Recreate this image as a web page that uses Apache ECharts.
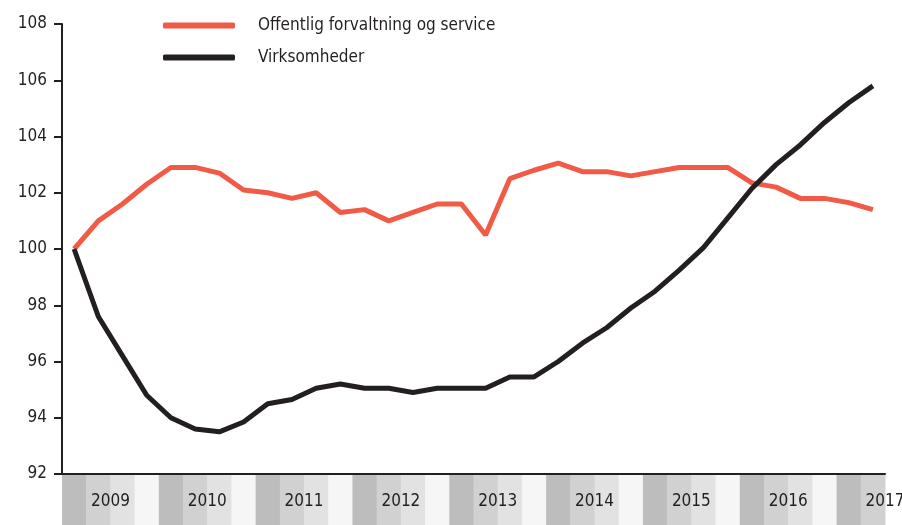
<!DOCTYPE html>
<html>
<head>
	<meta charset="UTF-8">
	<title>Offentlig forvaltning og virksomheder</title>
	<script src="https://cdn.jsdelivr.net/npm/echarts@6/dist/echarts.min.js"></script>
	<style>
		html, body { margin: 0; padding: 0; background: #fff; }
		#chart { width: 902px; height: 525px; }
	</style>
</head>
<body>
	<div id="chart"></div>
	<script>
		// kvartaler 2009K1 - 2017K2
		var years = ["2009","2010","2011","2012","2013","2014","2015","2016","2017"];
		var quarters = [];
		for (var y = 0; y < years.length; y++) {
			for (var q = 1; q <= 4; q++) {
				if (quarters.length < 34) quarters.push(years[y] + "K" + q);
			}
		}
		var yTicks = [92, 94, 96, 98, 100, 102, 104, 106, 108];

		var offentlig = [100.0, 101.0, 101.6, 102.3, 102.9, 102.9, 102.7, 102.1, 102.0, 101.8,
			102.0, 101.3, 101.4, 101.0, 101.3, 101.6, 101.6, 100.5, 102.5, 102.8,
			103.05, 102.75, 102.75, 102.6, 102.75, 102.9, 102.9, 102.9, 102.35, 102.2,
			101.8, 101.8, 101.65, 101.4];
		var virksomheder = [100.0, 97.6, 96.2, 94.8, 94.0, 93.6, 93.5, 93.85, 94.5, 94.65,
			95.05, 95.2, 95.05, 95.05, 94.9, 95.05, 95.05, 95.05, 95.45, 95.45,
			96.0, 96.65, 97.2, 97.9, 98.5, 99.25, 100.05, 101.1, 102.15, 103.0,
			103.7, 104.5, 105.2, 105.8];

		var bandColors = ["#bdbdbd", "#d1d1d1", "#e2e2e2", "#f6f6f6"];
		var font = "'Liberation Sans Narrow', 'DejaVu Sans Condensed', sans-serif";
		var bandData = quarters.map(function (q, i) { return [i, 1]; });

		var myChart = echarts.init(document.getElementById('chart'));
		var option = {
			animation: false,
			backgroundColor: '#fff',
			grid: [
				{ left: 62, right: 17, top: 24, bottom: 51 },
				{ left: 62, right: 17, top: 475, bottom: 0 }
			],
			legend: {
				orient: 'vertical',
				left: 158,
				top: 12,
				itemWidth: 72,
				itemHeight: 6,
				itemGap: 15,
				icon: 'roundRect',
				textStyle: {
					fontFamily: font,
					fontSize: 17,
					color: '#231f20',
					padding: [0, 0, 0, 18]
				},
				data: ['Offentlig forvaltning og service', 'Virksomheder']
			},
			xAxis: [{
				type: 'category',
				gridIndex: 0,
				data: quarters,
				boundaryGap: true,
				axisLine: { lineStyle: { color: '#231f20', width: 2 } },
				axisTick: { show: false },
				axisLabel: { show: false },
				splitLine: { show: false }
			}, {
				type: 'category',
				gridIndex: 1,
				data: quarters,
				boundaryGap: true,
				axisLine: { show: false },
				axisTick: { show: false },
				axisLabel: { show: false }
			}],
			yAxis: [{
				type: 'value',
				gridIndex: 0,
				min: yTicks[0],
				max: yTicks[yTicks.length - 1],
				interval: 2,
				axisLine: { show: true, lineStyle: { color: '#231f20', width: 2 } },
				axisTick: { show: true, length: 8, lineStyle: { color: '#231f20', width: 2 } },
				axisLabel: {
					margin: 15,
					fontFamily: font,
					fontSize: 17,
					color: '#231f20'
				},
				splitLine: { show: false }
			}, {
				type: 'value',
				gridIndex: 1,
				min: 0,
				max: 1,
				show: false
			}],
			series: [{
				name: 'Offentlig forvaltning og service',
				type: 'line',
				data: offentlig,
				symbol: 'none',
				color: '#f05a46',
				lineStyle: { width: 5, color: '#f05a46' }
			}, {
				name: 'Virksomheder',
				type: 'line',
				data: virksomheder,
				symbol: 'none',
				color: '#231f20',
				lineStyle: { width: 5, color: '#231f20' }
			}, {
				// grå kvartalsbånd
				type: 'custom',
				xAxisIndex: 1,
				yAxisIndex: 1,
				silent: true,
				z: 1,
				data: bandData,
				renderItem: function (params, api) {
					var idx = api.value(0);
					var top = api.coord([idx, 1]);
					var bot = api.coord([idx, 0]);
					var w = api.size([1, 0])[0];
					return {
						type: 'rect',
						shape: { x: top[0] - w / 2, y: top[1], width: w + 0.5, height: bot[1] - top[1] },
						style: { fill: bandColors[idx % 4] }
					};
				}
			}, {
				// årstal midt i hvert år
				type: 'custom',
				xAxisIndex: 1,
				yAxisIndex: 1,
				silent: true,
				z: 5,
				clip: false,
				data: bandData,
				renderItem: function (params, api) {
					var idx = api.value(0);
					if (idx % 4 !== 1) return null;
					var top = api.coord([idx, 1]);
					var bot = api.coord([idx, 0]);
					var w = api.size([1, 0])[0];
					return {
						type: 'text',
						x: top[0] + w / 2,
						y: (top[1] + bot[1]) / 2 + 2,
						style: {
							text: years[Math.floor(idx / 4)],
							fontFamily: font,
							fontSize: 17,
							fill: '#231f20',
							align: 'center',
							verticalAlign: 'middle'
						}
					};
				}
			}]
		};
		myChart.setOption(option);
	</script>
</body>
</html>
